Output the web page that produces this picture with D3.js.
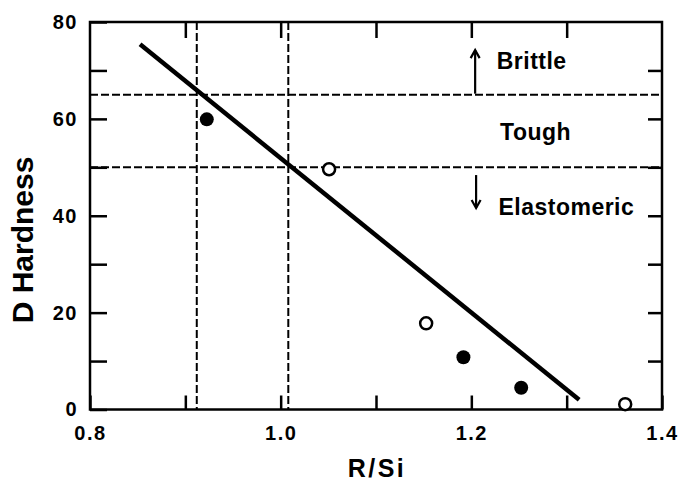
<!DOCTYPE html>
<html>
<head>
<meta charset="utf-8">
<script src="https://cdn.jsdelivr.net/npm/d3@7"></script>
<style>
  body { margin: 0; background: #fff; }
  text { font-family: "Liberation Sans", Arial, Helvetica, sans-serif; font-weight: bold; fill: #000; }
</style>
</head>
<body>
<div id="plot"></div>
<script>
// values
var xTicks = [0.8, 0.9, 1.0, 1.1, 1.2, 1.3, 1.4];
var xTickLabels = [0.8, 1.0, 1.2, 1.4];
var yTicks = [0, 10, 20, 30, 40, 50, 60, 70, 80];
var yTickLabels = [0, 20, 40, 60, 80];

var filledX = [0.9225, 1.1917, 1.2523];
var filledY = [59.9, 10.8, 4.5];
var openX = [1.0508, 1.1526, 1.3614];
var openY = [49.6, 17.8, 1.1];

// fitted line, end points
var lineX = [0.8525, 1.3131];
var lineY = [75.4, 2.0];

// dashed boundaries
var boundaryX = [0.912, 1.008];
var boundaryY = [65, 50];

// region labels
var regionNames = ["Brittle", "Tough", "Elastomeric"];
var regionX = [1.2266, 1.2302, 1.2284];
var regionY = [70.2, 55.6, 40.2];

// arrows: [from, to] in hardness, at x = arrowX
var arrowX = [1.204, 1.205];
var arrowFrom = [65.2, 48.4];
var arrowTo = [74.2, 41.6];

var svgWidth = 679;
var svgHeight = 486;
var margin = { top: 22, right: 17, bottom: 76.5, left: 90 };
var width = svgWidth - margin.left - margin.right;
var height = svgHeight - margin.top - margin.bottom;

var svg = d3.select("#plot")
  .append("svg")
  .attr("width", svgWidth)
  .attr("height", svgHeight);

var chartGroup = svg.append("g")
  .attr("transform", `translate(${margin.left}, ${margin.top})`);

// scales
var x = d3.scaleLinear().domain([0.8, 1.4]).range([0, width]);
var y = d3.scaleLinear().domain([0, 80]).range([height, 0]);

function fmtX(d) {
  return xTickLabels.some(v => Math.abs(v - d) < 1e-9) ? d3.format(".1f")(d) : "";
}
function fmtY(d) {
  return yTickLabels.indexOf(d) >= 0 ? String(d) : "";
}

function styleAxis(g) {
  g.select(".domain").remove();
  g.selectAll("line").attr("stroke", "#000").attr("stroke-width", 2.5);
  g.selectAll("text")
    .attr("font-size", 20)
    .attr("letter-spacing", 1.5)
    .attr("font-family", null);
  g.attr("font-family", null);
}

// axes, ticks pointing inward
chartGroup.append("g")
  .attr("transform", `translate(0, ${height})`)
  .call(d3.axisBottom(x).tickValues(xTicks).tickFormat(fmtX).tickSizeInner(-14).tickSizeOuter(0).tickPadding(16))
  .call(styleAxis);

chartGroup.append("g")
  .call(d3.axisTop(x).tickValues(xTicks.slice(1, -1)).tickFormat("").tickSizeInner(-16).tickSizeOuter(0))
  .call(styleAxis);

chartGroup.append("g")
  .call(d3.axisLeft(y).tickValues(yTicks).tickFormat(fmtY).tickSizeInner(-17).tickSizeOuter(0).tickPadding(12))
  .call(styleAxis);

chartGroup.append("g")
  .attr("transform", `translate(${width}, 0)`)
  .call(d3.axisRight(y).tickValues(yTicks.slice(1, -1)).tickFormat("").tickSizeInner(-14).tickSizeOuter(0))
  .call(styleAxis);

// frame
chartGroup.append("rect")
  .attr("x", 0).attr("y", 0)
  .attr("width", width).attr("height", height)
  .attr("fill", "none")
  .attr("stroke", "#000")
  .attr("stroke-width", 2.5);

// dashed boundaries
chartGroup.selectAll(".vdash")
  .data(boundaryX)
  .enter()
  .append("line")
  .attr("class", "vdash")
  .attr("x1", d => x(d)).attr("x2", d => x(d))
  .attr("y1", y(80)).attr("y2", y(0))
  .attr("stroke", "#000")
  .attr("stroke-width", 2)
  .attr("stroke-dasharray", "8,3");

chartGroup.selectAll(".hdash")
  .data(boundaryY)
  .enter()
  .append("line")
  .attr("class", "hdash")
  .attr("x1", x(0.8)).attr("x2", x(1.4))
  .attr("y1", d => y(d)).attr("y2", d => y(d))
  .attr("stroke", "#000")
  .attr("stroke-width", 2)
  .attr("stroke-dasharray", "8,3");

// fitted line
chartGroup.append("path")
  .datum(lineX.map((v, i) => [v, lineY[i]]))
  .attr("d", d3.line().x(d => x(d[0])).y(d => y(d[1])))
  .attr("fill", "none")
  .attr("stroke", "#000")
  .attr("stroke-width", 4.5);

// points
chartGroup.selectAll(".filled")
  .data(filledX.map((v, i) => [v, filledY[i]]))
  .enter()
  .append("circle")
  .attr("class", "filled")
  .attr("cx", d => x(d[0]))
  .attr("cy", d => y(d[1]))
  .attr("r", 7)
  .attr("fill", "#000");

chartGroup.selectAll(".open")
  .data(openX.map((v, i) => [v, openY[i]]))
  .enter()
  .append("circle")
  .attr("class", "open")
  .attr("cx", d => x(d[0]))
  .attr("cy", d => y(d[1]))
  .attr("r", 6)
  .attr("fill", "#fff")
  .attr("stroke", "#000")
  .attr("stroke-width", 2.5);

// arrows
arrowX.forEach((ax, i) => {
  var px = x(ax);
  var y0 = y(arrowFrom[i]);
  var y1 = y(arrowTo[i]);
  var dir = y1 < y0 ? 1 : -1;
  chartGroup.append("line")
    .attr("x1", px).attr("x2", px)
    .attr("y1", y0).attr("y2", y1)
    .attr("stroke", "#000").attr("stroke-width", 2.2);
  chartGroup.append("path")
    .attr("d", `M${px - 4.5},${y1 + dir * 8}L${px},${y1}L${px + 4.5},${y1 + dir * 8}`)
    .attr("fill", "none")
    .attr("stroke", "#000").attr("stroke-width", 2.2);
});

// region labels
chartGroup.selectAll(".region")
  .data(regionNames)
  .enter()
  .append("text")
  .attr("class", "region")
  .attr("x", (d, i) => x(regionX[i]))
  .attr("y", (d, i) => y(regionY[i]))
  .attr("font-size", 23)
  .attr("letter-spacing", 0.5)
  .text(d => d);

// axis titles
svg.append("text")
  .attr("x", margin.left + width / 2 + 1)
  .attr("y", 477)
  .attr("text-anchor", "middle")
  .attr("font-size", 25)
  .attr("letter-spacing", 2.5)
  .text("R/Si");

svg.append("text")
  .attr("transform", "translate(33, 240) rotate(-90)")
  .attr("text-anchor", "middle")
  .attr("font-size", 30)
  .text("D Hardness");
</script>
</body>
</html>
